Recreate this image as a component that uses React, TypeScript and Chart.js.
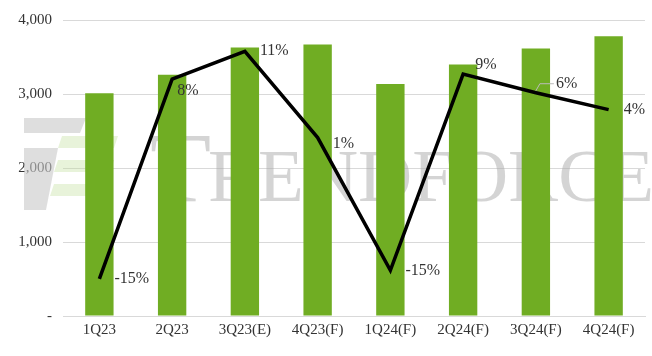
import React, { useEffect, useRef } from "react";
import { Chart, registerables } from "chart.js";

Chart.register(...registerables);

const categories = ["1Q23", "2Q23", "3Q23(E)", "4Q23(F)", "1Q24(F)", "2Q24(F)", "3Q24(F)", "4Q24(F)"];
const revenue = [3010, 3260, 3630, 3670, 3135, 3400, 3615, 3780];
const growth = [-0.156, 0.08, 0.113, 0.011, -0.146, 0.086, 0.064, 0.044];
const growthLabels = ["-15%", "8%", "11%", "1%", "-15%", "9%", "6%", "4%"];
const labelPlacement = ["right", "below", "right", "lowright", "right", "above", "aboveLeader", "right"];
const yTicks = [0, 1000, 2000, 3000, 4000];

const SERIF = "'Liberation Serif', 'Times New Roman', serif";

const watermarkPlugin = {
  id: "watermark",
  beforeDatasetsDraw(chart: any) {
    const ctx = chart.ctx;
    ctx.save();
    // logo
    ctx.fillStyle = "rgba(200,200,200,0.6)";
    ctx.beginPath();
    ctx.moveTo(24, 118);
    ctx.lineTo(86, 118);
    ctx.lineTo(80, 133);
    ctx.lineTo(24, 133);
    ctx.closePath();
    ctx.fill();
    ctx.beginPath();
    ctx.moveTo(24, 148);
    ctx.lineTo(58, 148);
    ctx.lineTo(46, 210);
    ctx.lineTo(24, 210);
    ctx.closePath();
    ctx.fill();
    ctx.fillStyle = "rgba(190,220,150,0.35)";
    const stripes = [[136, 148], [160, 172], [184, 196]];
    stripes.forEach(([a, b], i) => {
      ctx.beginPath();
      ctx.moveTo(62 - i * 4, a);
      ctx.lineTo(118 - i * 4, a);
      ctx.lineTo(114 - i * 4, b);
      ctx.lineTo(58 - i * 4, b);
      ctx.closePath();
      ctx.fill();
    });
    // text
    ctx.fillStyle = "rgba(170,170,170,0.5)";
    ctx.textBaseline = "alphabetic";
    ctx.textAlign = "left";
    ctx.font = `100px ${SERIF}`;
    ctx.fillText("T", 150, 201);
    const tw = ctx.measureText("T").width;
    ctx.font = `75px ${SERIF}`;
    ctx.fillText("RENDFORCE", 150 + tw - 3, 201);
    ctx.restore();
  },
};

const pctLabelPlugin = {
  id: "pctLabels",
  afterDatasetsDraw(chart: any) {
    const ctx = chart.ctx;
    const meta = chart.getDatasetMeta(1);
    ctx.save();
    ctx.font = `16px ${SERIF}`;
    ctx.fillStyle = "#333333";
    ctx.textBaseline = "middle";
    ctx.textAlign = "left";
    meta.data.forEach((pt: any, i: number) => {
      const p = labelPlacement[i];
      let dx = 15;
      let dy = 0;
      if (p === "below") { dx = 5; dy = 12; }
      if (p === "lowright") { dx = 15; dy = 6; }
      if (p === "above") { dx = 12; dy = -9; }
      if (p === "aboveLeader") {
        dx = 20; dy = -9;
        ctx.strokeStyle = "#bbbbbb";
        ctx.lineWidth = 1;
        ctx.beginPath();
        ctx.moveTo(pt.x, pt.y - 2);
        ctx.lineTo(pt.x + 4, pt.y - 9);
        ctx.lineTo(pt.x + 18, pt.y - 9);
        ctx.stroke();
      }
      ctx.fillText(growthLabels[i], pt.x + dx, pt.y + dy);
    });
    ctx.restore();
  },
};

export default function App() {
  const ref = useRef<HTMLCanvasElement | null>(null);
  useEffect(() => {
    if (!ref.current) return;
    const chart = new Chart(ref.current, {
      type: "bar",
      data: {
        labels: categories,
        datasets: [
          {
            type: "bar",
            data: revenue,
            backgroundColor: "#70ad23",
            borderWidth: 0,
            categoryPercentage: 1,
            barPercentage: 0.39,
            yAxisID: "y",
            order: 2,
          },
          {
            type: "line",
            data: growth,
            borderColor: "#000000",
            borderWidth: 3.5,
            pointRadius: 0,
            tension: 0,
            yAxisID: "y2",
            order: 1,
          } as any,
        ],
      },
      options: {
        responsive: false,
        animation: false,
        layout: { padding: { left: 0, right: 7, top: 16, bottom: 12 } },
        plugins: { legend: { display: false }, tooltip: { enabled: false } },
        scales: {
          x: {
            grid: { display: false, drawTicks: false },
            border: { display: true, color: "#d9d9d9", width: 1 },
            ticks: {
              color: "#333333",
              font: { family: SERIF, size: 15 },
              padding: 5,
              maxRotation: 0,
              autoSkip: false,
            },
          },
          y: {
            min: 0,
            max: 4000,
            afterBuildTicks(scale: any) {
              scale.ticks = yTicks.map((v) => ({ value: v }));
            },
            afterFit(scale: any) {
              scale.width = 63;
            },
            grid: { color: "#d9d9d9", lineWidth: 1, drawTicks: false },
            border: { display: false },
            ticks: {
              color: "#333333",
              font: { family: SERIF, size: 15 },
              padding: 11,
              callback: (v: any) => (v === 0 ? "-" : Number(v).toLocaleString("en-US")),
            },
          },
          y2: {
            display: false,
            position: "right",
            min: -0.2,
            max: 0.15,
          },
        },
      },
      plugins: [watermarkPlugin, pctLabelPlugin],
    });
    return () => chart.destroy();
  }, []);
  return (
    <div style={{ position: "fixed", left: 0, top: 0, width: 652, height: 356, background: "#fff" }}>
      <canvas ref={ref} width={652} height={356} />
    </div>
  );
}
